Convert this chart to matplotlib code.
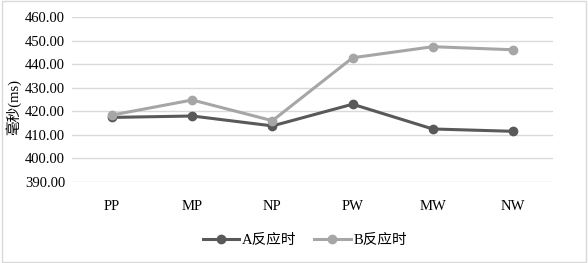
import matplotlib
matplotlib.use('Agg')
import matplotlib.pyplot as plt
from matplotlib.patches import Rectangle

plt.rcParams['font.family'] = ['Liberation Serif', 'Noto Sans CJK SC']

categories = ['PP', 'MP', 'NP', 'PW', 'MW', 'NW']
a_rt = [417.4, 418.0, 413.8, 423.0, 412.5, 411.5]
b_rt = [418.4, 424.8, 416.0, 442.7, 447.4, 446.1]
yticks = [390, 400, 410, 420, 430, 440, 450, 460]

W, H = 588, 263
fig = plt.figure(figsize=(W / 100, H / 100), dpi=100)
ax = fig.add_axes([72 / W, 1 - 182 / H, (553 - 72) / W, (182 - 17) / H])

x = list(range(len(categories)))
ax.plot(x, a_rt, color='#595959', lw=2.2, marker='o', ms=6, label='A反应时', zorder=3)
ax.plot(x, b_rt, color='#a6a6a6', lw=2.2, marker='o', ms=6, label='B反应时', zorder=3)

ax.set_xlim(-0.5, len(categories) - 0.5)
ax.set_ylim(390, 460)
ax.set_yticks(yticks)
ax.set_yticklabels([f'{v:.2f}' for v in yticks], fontsize=10.5)
ax.set_xticks(x)
ax.set_xticklabels(categories, fontsize=10.5)
ax.tick_params(length=0)
ax.tick_params(axis='x', pad=13)
ax.tick_params(axis='y', pad=5)
ax.grid(axis='y', color='#d9d9d9', lw=1)
ax.set_axisbelow(True)
for s in ax.spines.values():
    s.set_visible(False)

fig.text(13 / W, 1 - 107 / H, '毫秒(ms)', rotation=90, ha='center', va='center', fontsize=10.5)

fig.legend(loc='center', bbox_to_anchor=(305 / W, 1 - 240 / H), ncol=2, frameon=False,
           fontsize=10.5, handlelength=2.5, columnspacing=1.2, handletextpad=0.2)

fig.patches.append(Rectangle((0.003, 0.005), 0.994, 0.99, transform=fig.transFigure,
                             fill=False, edgecolor='#d9d9d9', lw=1))

fig.savefig('out.png', dpi=100)
